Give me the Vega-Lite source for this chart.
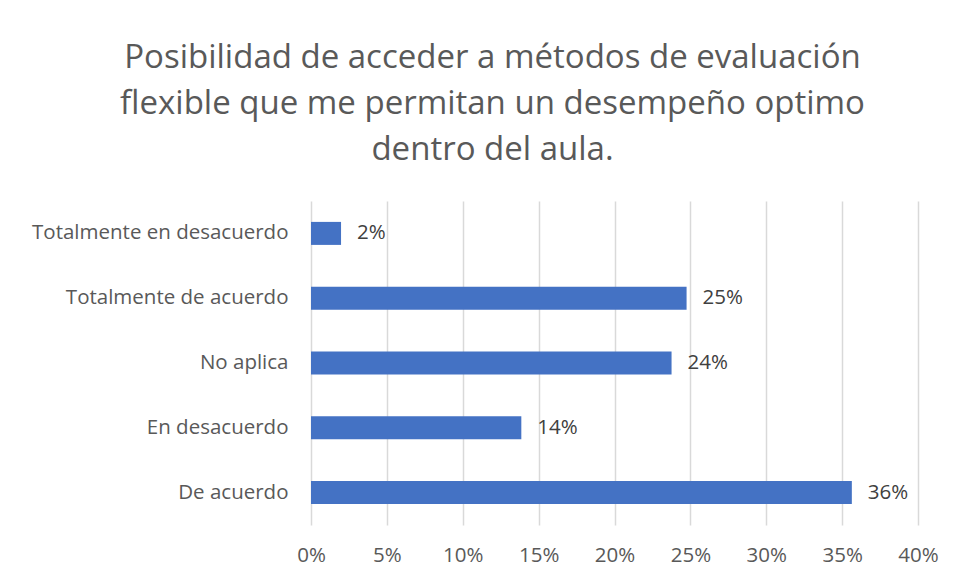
{
  "$schema": "https://vega.github.io/schema/vega-lite/v6.json",
  "autosize": "none",
  "width": 607,
  "height": 324,
  "padding": {"left": 311, "top": 201, "right": 36, "bottom": 56},
  "background": "white",
  "title": {
    "text": ["Posibilidad de acceder a métodos de evaluación", "flexible que me permitan un desempeño optimo", "dentro del aula."],
    "font": "Open Sans",
    "fontSize": 33,
    "fontWeight": "normal",
    "color": "#595959",
    "lineHeight": 46,
    "anchor": "middle",
    "frame": "group",
    "dx": -122,
    "offset": 34
  },
  "data": {
    "values": [
      {"respuesta": "Totalmente en desacuerdo", "porcentaje": 0.0198},
      {"respuesta": "Totalmente de acuerdo", "porcentaje": 0.2475},
      {"respuesta": "No aplica", "porcentaje": 0.2376},
      {"respuesta": "En desacuerdo", "porcentaje": 0.1386},
      {"respuesta": "De acuerdo", "porcentaje": 0.3564}
    ]
  },
  "encoding": {
    "y": {
      "field": "respuesta",
      "type": "nominal",
      "sort": ["Totalmente en desacuerdo", "Totalmente de acuerdo", "No aplica", "En desacuerdo", "De acuerdo"],
      "scale": {"paddingInner": 0.645, "paddingOuter": 0.3225},
      "axis": {
        "title": null,
        "domain": false,
        "ticks": false,
        "labelPadding": 23,
        "labelLimit": 0,
        "labelFont": "Open Sans",
        "labelFontSize": 20.5,
        "labelColor": "#595959",
        "grid": false
      }
    },
    "x": {
      "field": "porcentaje",
      "type": "quantitative",
      "scale": {"domain": [0, 0.4], "nice": false},
      "axis": {
        "title": null,
        "values": [0, 0.05, 0.1, 0.15, 0.2, 0.25, 0.3, 0.35, 0.4],
        "format": ".0%",
        "domain": false,
        "ticks": false,
        "grid": true,
        "gridColor": "#d9d9d9",
        "gridWidth": 1.5,
        "labelPadding": 20,
        "labelFlush": false,
        "labelFont": "Open Sans",
        "labelFontSize": 20.5,
        "labelColor": "#595959"
      }
    }
  },
  "layer": [
    {"mark": {"type": "bar", "color": "#4472C4"}},
    {
      "mark": {"type": "text", "align": "left", "baseline": "middle", "dx": 16, "font": "Open Sans", "fontSize": 20.5, "color": "#404040"},
      "encoding": {"text": {"field": "porcentaje", "type": "quantitative", "format": ".0%"}}
    }
  ],
  "config": {"view": {"stroke": null}}
}
